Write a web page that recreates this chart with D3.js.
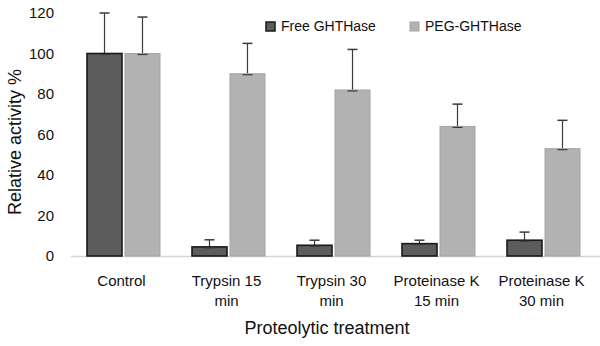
<!DOCTYPE html>
<html>
<head>
<meta charset="utf-8">
<script src="https://cdn.jsdelivr.net/npm/d3@7"></script>
<style>
  body { margin: 0; background: #fff; }
  text { font-family: "Liberation Sans", Arial, sans-serif; fill: #111; }
</style>
</head>
<body>
<div id="chart-area"></div>
<script>
// data
var categories = [["Control"], ["Trypsin 15", "min"], ["Trypsin 30", "min"],
                  ["Proteinase K", "15 min"], ["Proteinase K", "30 min"]];
var freeValues = [100, 4.5, 5.3, 6.1, 7.8];
var freeErrors = [20, 3.5, 2.5, 1.7, 4];
var pegValues = [100, 90, 82, 64, 53];
var pegErrors = [18, 15, 20, 11, 14];
var yTicks = [0, 20, 40, 60, 80, 100, 120];
var seriesNames = ["Free GHTHase", "PEG-GHTHase"];

var width = 600, height = 346;
var margin = { left: 71, right: 4, top: 13, bottom: 90 };

var svg = d3.select("#chart-area")
    .append("svg")
        .attr("width", width)
        .attr("height", height);

// Scales
var x = d3.scaleBand()
    .domain(d3.range(categories.length))
    .range([margin.left, width - margin.right]);

var y = d3.scaleLinear()
    .domain([0, 120])
    .range([height - margin.bottom, margin.top]);

var barW = 35, gap = 3;
var colors = { fill: ["#5c5c5c", "#b2b2b2"], stroke: ["#1a1a1a", "#a4a4a4"] };

// Y Axis (labels only)
var yAxisCall = d3.axisLeft(y)
    .tickValues(yTicks)
    .tickSize(0)
    .tickPadding(0);
var yAxis = svg.append("g")
    .attr("transform", "translate(54,0)")
    .call(yAxisCall);
yAxis.select(".domain").remove();
yAxis.selectAll("text")
    .attr("font-size", "15px")
    .attr("font-family", "Liberation Sans, Arial, sans-serif")
    .attr("fill", "#111");

// baseline
svg.append("line")
    .attr("x1", margin.left)
    .attr("x2", width)
    .attr("y1", y(0) + 0.5)
    .attr("y2", y(0) + 0.5)
    .attr("stroke", "#d4d4d4")
    .attr("stroke-width", 1.5);

// Bars
var series = [freeValues, pegValues];
var errors = [freeErrors, pegErrors];

series.forEach(function(vals, s) {
    var g = svg.append("g");
    var xPos = function(i) {
        var c = x(i) + x.bandwidth() / 2;
        return s == 0 ? c - gap / 2 - barW : c + gap / 2;
    };

    // error bars drawn behind the bars
    g.selectAll(".err")
        .data(vals)
        .enter().append("g")
        .each(function(d, i) {
            var cx = xPos(i) + barW / 2;
            var e = d3.select(this);
            e.append("line")
                .attr("x1", cx).attr("x2", cx)
                .attr("y1", y(d)).attr("y2", y(d + errors[s][i]))
                .attr("stroke", "#3a3a3a").attr("stroke-width", 1.2);
            e.append("line")
                .attr("x1", cx - 5).attr("x2", cx + 5)
                .attr("y1", y(d + errors[s][i])).attr("y2", y(d + errors[s][i]))
                .attr("stroke", "#3a3a3a").attr("stroke-width", 1.5);
        });

    g.selectAll("rect")
        .data(vals)
        .enter().append("rect")
        .attr("x", function(d, i) { return xPos(i); })
        .attr("y", function(d) { return y(d); })
        .attr("width", barW)
        .attr("height", function(d) { return y(0) - y(d); })
        .attr("fill", colors.fill[s])
        .attr("stroke", colors.stroke[s])
        .attr("stroke-width", s == 0 ? 1.6 : 1);

    // small tick at bar top (error bar base)
    g.selectAll(".base")
        .data(vals)
        .enter().append("line")
        .attr("x1", function(d, i) { return xPos(i) + barW / 2 - 5; })
        .attr("x2", function(d, i) { return xPos(i) + barW / 2 + 5; })
        .attr("y1", function(d) { return y(d) + 1; })
        .attr("y2", function(d) { return y(d) + 1; })
        .attr("stroke", "#3a3a3a")
        .attr("stroke-width", 1.2);
});

// Category labels
categories.forEach(function(lines, i) {
    var t = svg.append("text")
        .attr("x", x(i) + x.bandwidth() / 2 - 2)
        .attr("y", 286)
        .attr("font-size", "15px")
        .attr("text-anchor", "middle");
    lines.forEach(function(l, k) {
        t.append("tspan")
            .attr("x", x(i) + x.bandwidth() / 2 - 2)
            .attr("dy", k == 0 ? 0 : 20)
            .text(l);
    });
});

// Axis titles
svg.append("text")
    .attr("x", 327)
    .attr("y", 334)
    .attr("font-size", "18px")
    .attr("text-anchor", "middle")
    .text("Proteolytic treatment");

svg.append("text")
    .attr("transform", "rotate(-90)")
    .attr("x", -142)
    .attr("y", 21)
    .attr("font-size", "18px")
    .attr("text-anchor", "middle")
    .text("Relative activity %");

// Legend
var legendX = [266, 410];
seriesNames.forEach(function(name, s) {
    var row = svg.append("g")
        .attr("transform", "translate(" + legendX[s] + ",22)");
    row.append("rect")
        .attr("width", 9)
        .attr("height", 9)
        .attr("fill", colors.fill[s])
        .attr("stroke", colors.stroke[s])
        .attr("stroke-width", s == 0 ? 1.5 : 1);
    row.append("text")
        .attr("x", 15)
        .attr("y", 9)
        .attr("font-size", "14px")
        .text(name);
});
</script>
</body>
</html>
